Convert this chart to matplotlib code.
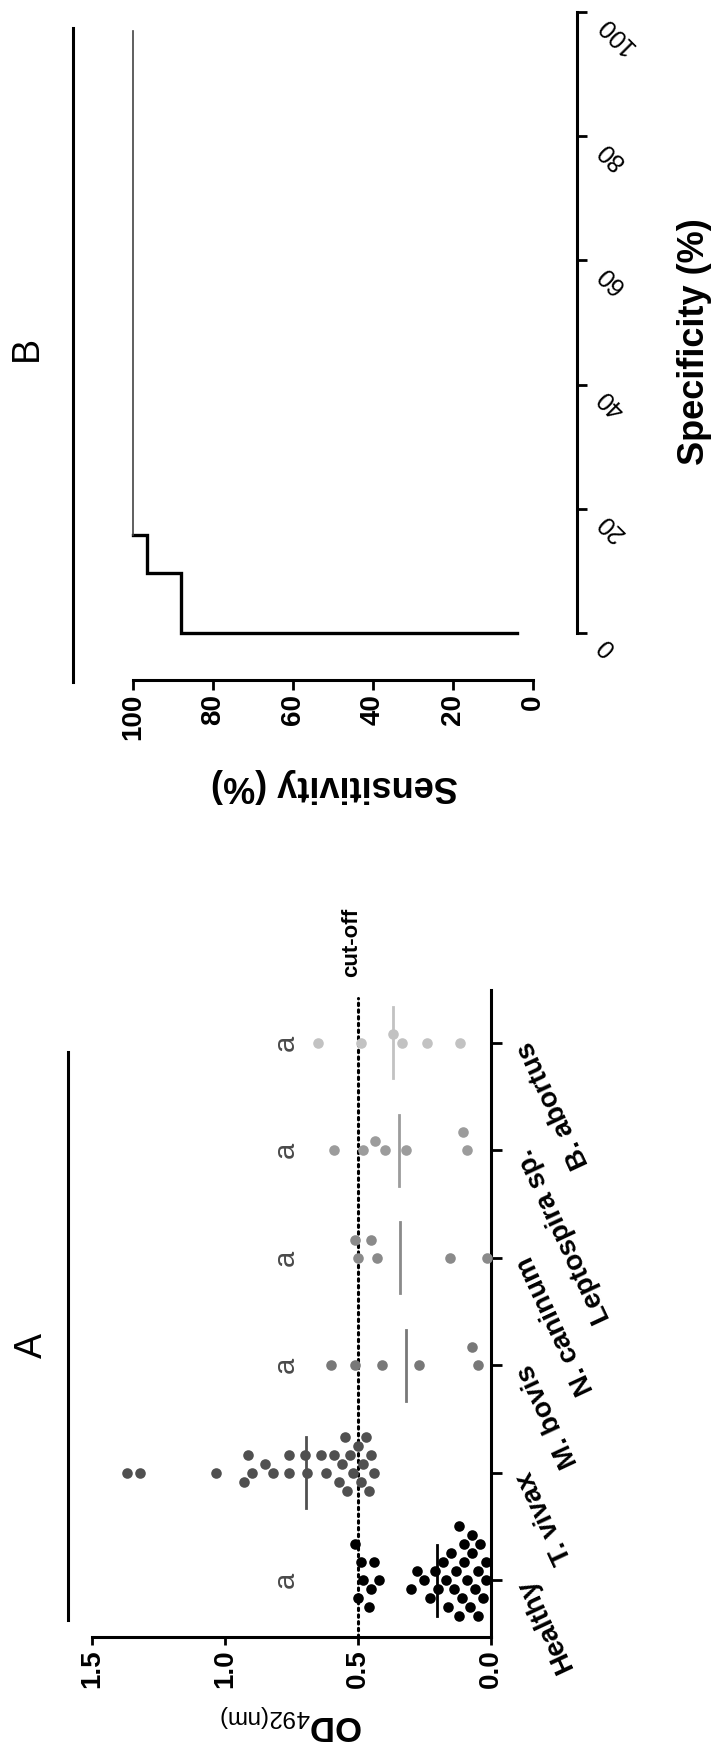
import numpy as np
import matplotlib
matplotlib.use('Agg')
import matplotlib.pyplot as plt
from matplotlib.lines import Line2D

plt.rcParams['font.family'] = ['Liberation Sans', 'DejaVu Sans']
plt.rcParams['mathtext.fontset'] = 'custom'
plt.rcParams['mathtext.rm'] = 'Liberation Sans'
plt.rcParams['mathtext.bf'] = 'Liberation Sans:bold'

# --- panel A: OD 492 nm per group ---
groups = ['Healthy', 'T. vivax', 'M. bovis', 'N. caninum', 'Leptospira sp.', 'B. abortus']
healthy = [0.51, 0.50, 0.49, 0.48, 0.46, 0.45, 0.44, 0.42,
           0.30, 0.28, 0.25, 0.23, 0.21, 0.20, 0.18, 0.17, 0.16, 0.15, 0.14, 0.13,
           0.12, 0.12, 0.11, 0.10, 0.10, 0.09, 0.08, 0.07, 0.07, 0.06, 0.05, 0.05,
           0.04, 0.03, 0.02, 0.02]
t_vivax = [1.37, 1.32, 1.035, 0.93, 0.915, 0.90, 0.85, 0.82, 0.76, 0.76, 0.70, 0.69,
           0.64, 0.62, 0.59, 0.57, 0.56, 0.55, 0.54, 0.53, 0.52, 0.50, 0.49, 0.48,
           0.47, 0.46, 0.45, 0.44]
m_bovis = [0.60, 0.51, 0.41, 0.27, 0.07, 0.05]
n_caninum = [0.51, 0.50, 0.45, 0.43, 0.155, 0.015]
leptospira = [0.59, 0.48, 0.435, 0.40, 0.32, 0.105, 0.09]
b_abortus = [0.65, 0.49, 0.37, 0.335, 0.24, 0.115]
group_values = [healthy, t_vivax, m_bovis, n_caninum, leptospira, b_abortus]
group_colors = ['#000000', '#505050', '#787878', '#8a8a8a', '#9c9c9c', '#c2c2c2']
letters = ['a', '', 'a', 'a', 'a', 'a']
cutoff = 0.5

# --- panel B: ROC curve ---
roc_spec = [0, 0, 9.7, 9.7, 15.8, 15.8, 97]
roc_sens = [4, 88, 88, 96.5, 96.5, 100, 100]

W, H = 717, 1764
fig = plt.figure(figsize=(W / 100, H / 100), dpi=100)


def swarm(vals, sx=266.7, sy=107.5, d=11.0, step=9.0):
    # side by side placement of points that would overlap
    vals = np.asarray(vals, float)
    offs = np.zeros(len(vals))
    placed = []
    for k in np.argsort(vals):
        x = vals[k] * sx
        for j in range(80):
            o = ((j + 1) // 2) * step * (1 if j % 2 else -1)
            if all(np.hypot(x - px, o - py) >= d for px, py in placed):
                break
        placed.append((x, o))
        offs[k] = o / sy
    return offs


# ---------------- panel A ----------------
axA = fig.add_axes([92 / W, 1 - 1637 / H, 399 / W, 647 / H])
axA.set_xlim(1.5, 0.0)
axA.set_ylim(-0.53, 5.49)
for s in ['top', 'left']:
    axA.spines[s].set_visible(False)
for s in ['right', 'bottom']:
    axA.spines[s].set_linewidth(2.2)

for i, (vals, c) in enumerate(zip(group_values, group_colors)):
    offs = swarm(vals)
    axA.scatter(vals, i + offs, s=58, color=c, linewidths=0, clip_on=False, zorder=3)
    m = np.mean(vals)
    axA.plot([m, m], [i - 0.33, i + 0.33], color=c, lw=2, zorder=2)
    if letters[i]:
        axA.text(0.77, i, letters[i], rotation=90, ha='center', va='center',
                 fontsize=21, color='#4a4a4a')

axA.plot([cutoff, cutoff], [-0.53, 5.42], color='k', lw=2.2,
         linestyle=(0, (0.8, 1.4)), dash_capstyle='round', clip_on=False, zorder=1)
axA.text(0.525, 5.93, 'cut-off', rotation=90, ha='center', va='center',
         fontsize=16, fontweight='bold', clip_on=False)

axA.set_xticks([0, 0.5, 1.0, 1.5])
axA.set_xticklabels(['0.0', '0.5', '1.0', '1.5'], rotation=90, fontsize=20,
                    fontweight='bold')
axA.tick_params(axis='x', direction='out', length=6, width=2, pad=3)
axA.yaxis.tick_right()
axA.set_yticks(range(len(groups)))
axA.set_yticklabels(groups, rotation=115, rotation_mode='anchor', ha='right',
                    va='center', fontsize=20, fontweight='bold')
axA.tick_params(axis='y', direction='out', length=8, width=2, pad=16)
axA.text(0.5, -0.131, r'$\mathbf{OD}_{\mathrm{492(nm)}}$', transform=axA.transAxes,
         rotation=180, ha='center', va='center', fontsize=25)

fig.add_artist(Line2D([68 / W, 68 / W], [1 - 1052 / H, 1 - 1620 / H], color='k', lw=2.2))
fig.text(32 / W, 1 - 1345 / H, 'A', rotation=90, ha='center', va='center', fontsize=27)

# ---------------- panel B ----------------
axB = fig.add_axes([133 / W, 1 - 633 / H, 400 / W, 621 / H])
axB.set_xlim(100, 0)
axB.set_ylim(0, 100)
for s in ['top', 'left']:
    axB.spines[s].set_visible(False)
axB.spines['bottom'].set_position(('outward', 34))
axB.spines['right'].set_position(('outward', 32))
for s in ['right', 'bottom']:
    axB.spines[s].set_linewidth(2.2)

axB.plot(roc_sens[:6], roc_spec[:6], color='k', lw=2.4, clip_on=False,
         solid_joinstyle='miter')
axB.plot(roc_sens[5:], roc_spec[5:], color='#444444', lw=1.2, clip_on=False)

ticks = [0, 20, 40, 60, 80, 100]
axB.set_xticks(ticks)
axB.set_xticklabels([str(t) for t in ticks], rotation=90, fontsize=20, fontweight='bold')
axB.tick_params(axis='x', direction='out', length=7, width=2, pad=3)
axB.yaxis.tick_right()
axB.set_yticks(ticks)
axB.set_yticklabels([str(t) for t in ticks], rotation=135, ha='left', va='top',
                    fontsize=18)
axB.tick_params(axis='y', direction='out', length=7, width=2, pad=4)
axB.text(0.505, -0.245, 'Sensitivity (%)', transform=axB.transAxes, rotation=180,
         ha='center', va='center', fontsize=26, fontweight='bold')
axB.text(1.405, 0.47, 'Specificity (%)', transform=axB.transAxes, rotation=90,
         ha='center', va='center', fontsize=26, fontweight='bold')

fig.add_artist(Line2D([73 / W, 73 / W], [1 - 28 / H, 1 - 682 / H], color='k', lw=2.2))
fig.text(27 / W, 1 - 348 / H, 'B', rotation=90, ha='center', va='center', fontsize=27)

fig.savefig('out.png', dpi=100)
